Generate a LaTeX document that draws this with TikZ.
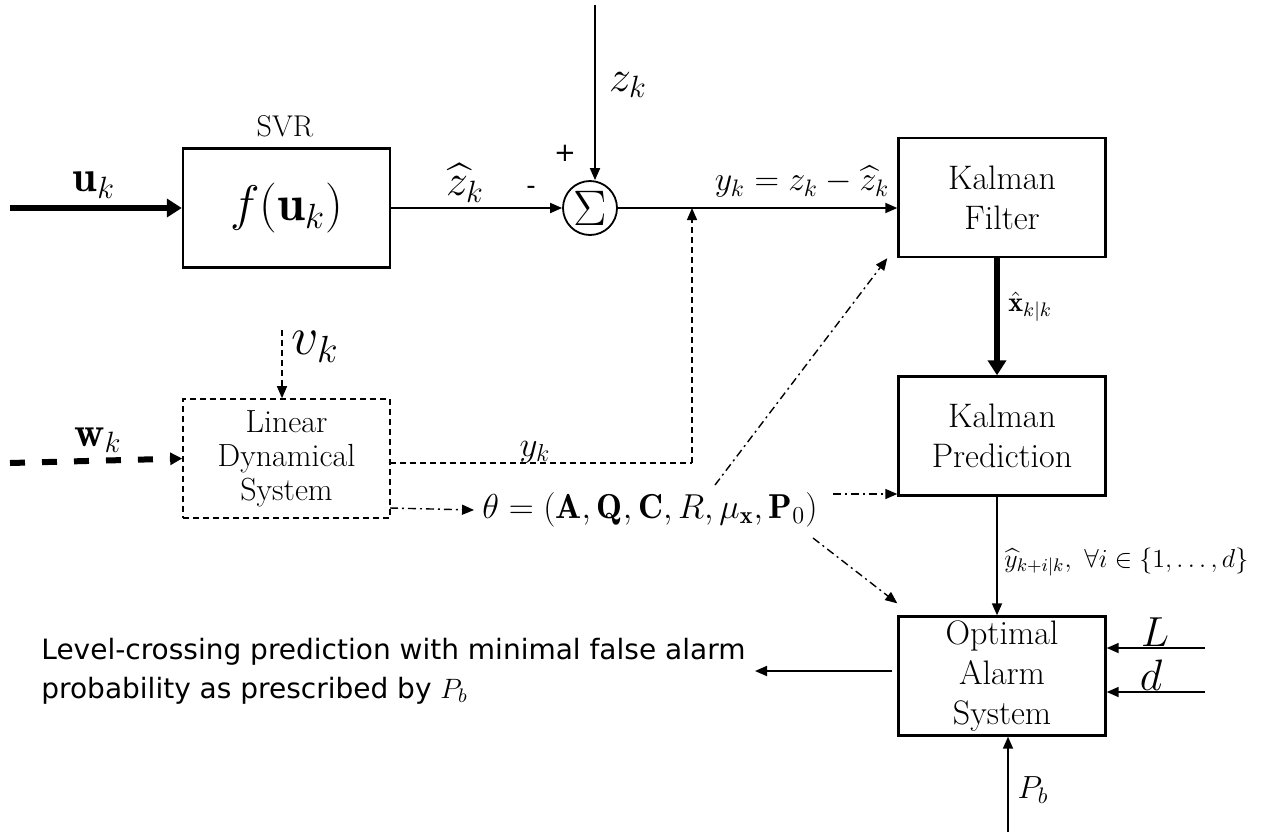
\RequirePackage{fix-cm}
\documentclass[tikz,border=0pt]{standalone}
\usepackage{amsmath,amssymb}
\usepackage{fontspec}
\newfontfamily\dejavu{DejaVu Sans}
\usetikzlibrary{arrows.meta,calc}
\newcommand{\fs}[1]{\fontsize{#1}{#1}\selectfont}
\begin{document}
\begin{tikzpicture}[x=0.5pt,y=-0.5pt,
  blk/.style={draw,line width=1.2pt,minimum width=103.5pt,minimum height=59.5pt,inner sep=0pt,align=center,font=\fontsize{17}{20}\selectfont},
  dblk/.style={blk,line width=0.8pt,dash pattern=on 3pt off 2pt,font=\fontsize{16}{17}\selectfont},
  tip/.style={-{Triangle[length=6pt,width=5pt]}},
  conn/.style={line width=0.9pt,tip},
  thick conn/.style={line width=3pt,-{Triangle[length=7.5pt,width=9pt]}},
  dconn/.style={line width=0.7pt,dash pattern=on 3pt off 2pt,tip},
  ddconn/.style={line width=0.7pt,dash pattern=on 4pt off 2pt on 1pt off 2pt,tip},
  lbl/.style={inner sep=0pt}
]
\useasboundingbox (0,0) rectangle (1268,836);

% blocks
\node[blk] (svr) at (286.5,208) {\fs{25}$f(\mathbf{u}_k)$};
\node[lbl,font=\fs{15}] (svrlbl) at (285,126) {SVR};
\node[draw,circle,line width=0.9pt,minimum size=27pt,inner sep=0pt] (sum) at (590,208) {\fs{25}$\Sigma$};
\node[blk] (kf) at (1002,197.5) {Kalman\\Filter};
\node[blk] (kp) at (1002,436) {Kalman\\Prediction};
\node[blk] (oas) at (1002,676) {Optimal\\Alarm\\System};
\node[dblk] (lds) at (286.5,458.5) {Linear\\Dynamical\\System};
\node[lbl,font=\fs{17.3}] (theta) at (650,510) {$\theta=(\mathbf{A},\mathbf{Q},\mathbf{C},R,\mu_{\mathbf{x}},\mathbf{P}_0)$};

% coordinates
\coordinate (uin) at (10,208);
\coordinate (zin) at (595,5);
\coordinate (win) at (10,463);
\coordinate (vin) at (282,330);
\coordinate (ldsy) at (390,463);
\coordinate (jb) at (692,463);
\coordinate (jt) at (692,208);
\coordinate (ldst) at (390,508);
\coordinate (Lin) at (1205,648);
\coordinate (din) at (1205,692);
\coordinate (pbin) at (1008,832);
\coordinate (outend) at (755,671);
\coordinate (kfo) at (997,0);
\coordinate (tkp) at (833,494);
\coordinate (tkf) at (715,485);
\coordinate (toas) at (813,538);

% connectors
\draw[thick conn] (uin) -- (svr.west);
\draw[conn] (svr.east) -- (sum.west);
\draw[conn] (zin) -- (zin |- sum.north);
\draw[conn] (sum.east) -- (sum.east -| kf.west);
\draw[thick conn] (kfo |- kf.south) -- (kfo |- kp.north);
\draw[conn] (kfo |- kp.south) -- (kfo |- oas.north);
\draw[conn] (Lin) -- (Lin -| oas.east);
\draw[conn] (din) -- (din -| oas.east);
\draw[conn] (pbin) -- (pbin |- oas.south);
\draw[conn] ($(oas.west)+(-5,-5)$) -- (outend);
\draw[line width=3pt,dash pattern=on 7.5pt off 8.5pt,-{Triangle[length=6pt,width=6pt]}] (win) -- (lds.west);
\draw[dconn] (vin) -- (vin |- lds.north);
\draw[line width=0.7pt,dash pattern=on 3pt off 2pt] (ldsy) -- (jb);
\draw[dconn] (jb) -- (jt);
\draw[ddconn] (ldst) -- ($(theta.west)+(-8,0)$);
\draw[ddconn] (tkp) -- (tkp -| kp.west);
\draw[ddconn] (tkf) -- ($(kf.south west)+(-10,0)$);
\draw[ddconn] (toas) -- ($(oas.north west)+(0,-12)$);

% labels
\node[lbl,font=\fs{22}] (ulbl) at (94,185) {$\mathbf{u}_k$};
\node[lbl,font=\fs{22}] (zhlbl) at (465,183) {$\widehat{z}_k$};
\node[lbl,font=\dejavu\fs{13}] (minus) at (531,190) {-};
\node[lbl,font=\dejavu\fs{13}] (plus) at (565,153) {+};
\node[lbl,font=\fs{22}] (zlbl) at (628,85) {$z_k$};
\node[lbl,font=\fs{17}] (ylbl) at (802,182) {$y_k=z_k-\widehat{z}_k$};
\node[lbl,anchor=west,font=\fs{14}] (xlbl) at (1008,307) {$\hat{\mathbf{x}}_{k|k}$};
\node[lbl,anchor=west,font=\fs{13}] (yhlbl) at (1004,562) {$\widehat{y}_{k+i|k},\ \forall i\in\{1,\dots,d\}$};
\node[lbl,font=\fs{21}] (Llbl) at (1155,632) {$L$};
\node[lbl,font=\fs{22}] (dlbl) at (1151,675) {$d$};
\node[lbl,font=\fs{16}] (pblbl) at (1033,790) {$P_b$};
\node[lbl,font=\fs{27}] (vlbl) at (315,347) {$v_k$};
\node[lbl,font=\fs{21}] (wlbl) at (98,440) {$\mathbf{w}_k$};
\node[lbl,font=\fs{17.5}] (yklbl) at (535,452) {$y_k$};
\node[lbl,anchor=west,align=left,font=\dejavu\fontsize{14}{19.5}\selectfont] (out) at (41,671) {Level-crossing prediction with minimal false alarm\\probability as prescribed by $P_b$};
\end{tikzpicture}
\end{document}
